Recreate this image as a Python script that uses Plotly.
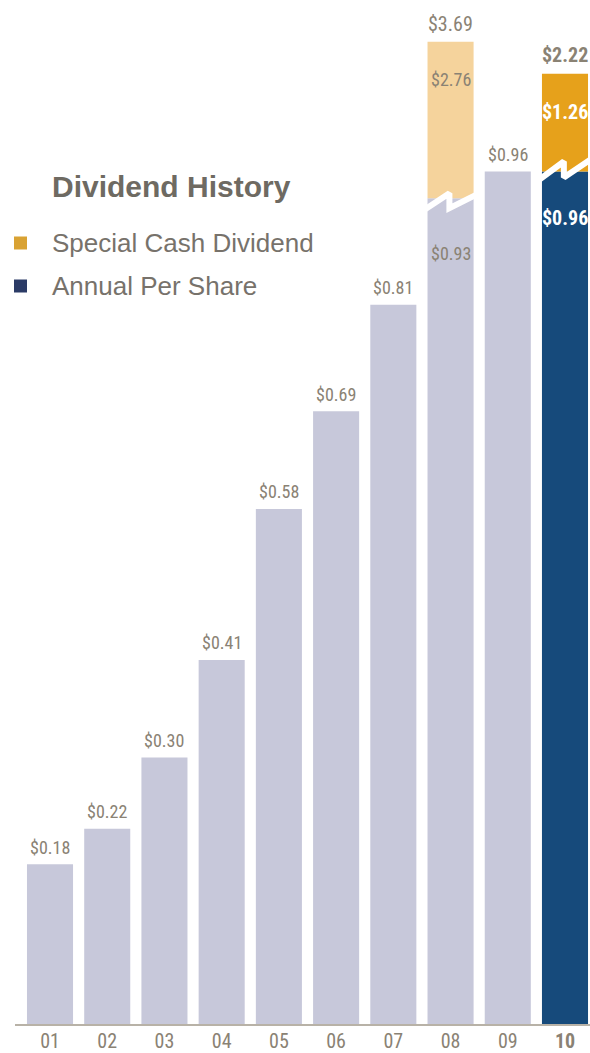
import plotly.graph_objects as go

# ---- data ----
years = ["01", "02", "03", "04", "05", "06", "07", "08", "09", "10"]
annual = [0.18, 0.22, 0.30, 0.41, 0.58, 0.69, 0.81, 0.93, 0.96, 0.96]
special = [None, None, None, None, None, None, None, 2.76, None, 1.26]
# special segments are drawn on a broken (compressed) scale: displayed height above the break
special_display = [None, None, None, None, None, None, None, 0.176, None, 0.110]

# ---- style ----
W, H = 590, 1053
ML, MR, MT, MB = 21, 0, 0, 29
PX_PER_UNIT = 888.0
PLOT_H = H - MT - MB
GRAY = "#c7c8da"
NAVY = "#164a7b"
PALE = "#f5d39c"
GOLD = "#e6a11b"
TXT = "#8a8274"
FONT_N = "Liberation Sans Narrow, Roboto Condensed, Arial Narrow, Liberation Sans, sans-serif"
FONT = "Liberation Sans, Arial, Helvetica, sans-serif"

x = list(range(len(years)))
ann_colors = [GRAY] * 9 + [NAVY]
spec_colors = [PALE if i == 7 else GOLD for i in x]

fig = go.Figure()
fig.add_trace(go.Bar(x=x, y=annual, marker_color=ann_colors, width=0.805,
                     marker_line_width=0, showlegend=False, hoverinfo="skip"))
sx = [i for i in x if special[i] is not None]
fig.add_trace(go.Bar(x=sx, y=[special_display[i] for i in sx], base=[annual[i] for i in sx],
                     marker_color=[spec_colors[i] for i in sx], width=0.805,
                     marker_line_width=0, showlegend=False, hoverinfo="skip"))

# zig-zag break marks (white)
u = 1 / PX_PER_UNIT
for i in sx:
    a = annual[i]
    if i == 7:
        offs = [12, -5, 10, -4]
    else:
        offs = [9, -10, 6, -13]
    fig.add_trace(go.Scatter(
        x=[i - 0.47, i - 0.02, i - 0.02, i + 0.47],
        y=[a - offs[0] * u, a - offs[1] * u, a - offs[2] * u, a - offs[3] * u],
        mode="lines", line=dict(color="white", width=6), showlegend=False, hoverinfo="skip"))

def label(xv, yv, text, shift, color=TXT, size=18, bold=False):
    fig.add_annotation(x=xv, y=yv, xref="x", yref="y", text=f"<b>{text}</b>" if bold else text,
                       showarrow=False, yshift=shift, yanchor="middle",
                       font=dict(family=FONT_N, size=size, color=color))

for i in x:
    if special[i] is None and i != 9:
        label(i, annual[i], f"${annual[i]:.2f}", 17)
# 08
tot8 = annual[7] + special[7]
top8 = annual[7] + special_display[7]
label(7, top8, f"${tot8:.2f}", 18, size=20)
label(7, top8, f"${special[7]:.2f}", -38)
label(7, annual[7], f"${annual[7]:.2f}", -55)
# 10
tot10 = annual[9] + special[9]
top10 = annual[9] + special_display[9]
label(9, top10, f"${tot10:.2f}", 19, bold=True, size=20)
label(9, top10, f"${special[9]:.2f}", -38, color="white", bold=True, size=20)
label(9, annual[9], f"${annual[9]:.2f}", -46, color="white", bold=True, size=20)

PW = W - ML - MR
def px(xp):
    return (xp - ML) / PW
def py(yp):
    return (H - MB - yp) / PLOT_H

# title and legend
fig.add_annotation(x=px(50), y=py(186), xref="paper", yref="paper", xanchor="left", yanchor="middle",
                   text="<b>Dividend History</b>", showarrow=False,
                   font=dict(family=FONT, size=30, color="#6e6a62"))
legend_items = [("Special Cash Dividend", "#d9a233", 243), ("Annual Per Share", "#2b3b66", 286)]
for name, col, yc in legend_items:
    fig.add_shape(type="rect", xref="paper", yref="paper", x0=px(14), x1=px(27), y0=py(yc - 6.5), y1=py(yc + 6.5),
                  fillcolor=col, line_width=0)
    fig.add_annotation(x=px(50), y=py(yc), xref="paper", yref="paper", xanchor="left", yanchor="middle",
                       text=name, showarrow=False, font=dict(family=FONT, size=26, color="#77726b"))

# baseline
fig.add_shape(type="line", xref="paper", yref="paper", x0=px(15), x1=px(590), y0=py(1025), y1=py(1025),
              line=dict(color="#b8b2a7", width=2))

ticktext = years[:-1] + ["<b>10</b>"]
fig.update_layout(
    width=W, height=H, margin=dict(l=ML, r=MR, t=MT, b=MB, pad=0),
    plot_bgcolor="white", paper_bgcolor="white", barmode="overlay",
    xaxis=dict(range=[-0.507, 9.437], tickmode="array", tickvals=x, ticktext=ticktext,
               showgrid=False, zeroline=False, showline=False, ticks="", ticklabelstandoff=3,
               automargin=False, tickfont=dict(family=FONT_N, size=20, color=TXT)),
    yaxis=dict(range=[0, PLOT_H / PX_PER_UNIT], visible=False, showgrid=False, zeroline=False,
               automargin=False),
)
fig.write_html("out.html")
